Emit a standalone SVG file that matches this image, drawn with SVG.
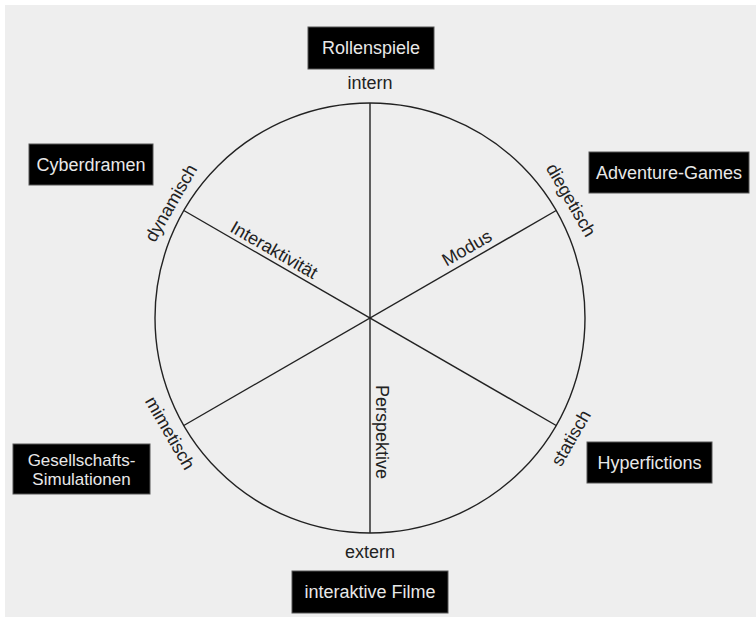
<svg xmlns="http://www.w3.org/2000/svg" width="756" height="617" viewBox="0 0 756 617">
<style>
.lbl{font-family:"Liberation Sans",Arial,sans-serif;font-size:18px;fill:#222;text-anchor:middle}
.box rect{fill:#000;stroke:#555;stroke-width:1}
.box text{font-family:"Liberation Sans",Arial,sans-serif;font-size:18px;fill:#e8e8e8;text-anchor:middle}
.box text.two{font-size:17px}
.ln{stroke:#222;stroke-width:1.4;fill:none}
</style>
<rect x="0" y="0" width="756" height="617" fill="#ffffff"/>
<rect x="5" y="5" width="751" height="612" fill="#eeeeee"/>
<g id="connectors">
<circle class="ln" cx="370" cy="318" r="215"/>
<line class="ln" x1="370" y1="103" x2="370" y2="533"/>
<line class="ln" x1="183.8" y1="210.5" x2="556.2" y2="425.5"/>
<line class="ln" x1="556.2" y1="210.5" x2="183.8" y2="425.5"/>
</g>
<g id="axis-labels">
<text class="lbl" transform="translate(274,250) rotate(30)" y="6">Interaktivität</text>
<text class="lbl" transform="translate(467,248) rotate(-30)" y="6">Modus</text>
<text class="lbl" transform="translate(382,432) rotate(90)" y="6">Perspektive</text>
<text class="lbl" x="370" y="89">intern</text>
<text class="lbl" x="370" y="558">extern</text>
<text class="lbl" transform="translate(171,203) rotate(-60)" y="6">dynamisch</text>
<text class="lbl" transform="translate(571,200) rotate(60)" y="6">diegetisch</text>
<text class="lbl" transform="translate(170,433) rotate(60)" y="6">mimetisch</text>
<text class="lbl" transform="translate(571,438) rotate(-60)" y="6">statisch</text>
</g>
<g id="rollenspiele" class="box"><rect x="308" y="27" width="126" height="42"/><text x="371" y="54">Rollenspiele</text></g>
<g id="adventure-games" class="box"><rect x="589" y="152" width="160" height="41"/><text x="669" y="179">Adventure-Games</text></g>
<g id="cyberdramen" class="box"><rect x="29" y="144" width="124" height="41"/><text x="91" y="171">Cyberdramen</text></g>
<g id="gesellschafts-simulationen" class="box"><rect x="13" y="444" width="137" height="50"/><text class="two" x="81.5" y="466">Gesellschafts-</text><text class="two" x="81.5" y="485">Simulationen</text></g>
<g id="hyperfictions" class="box"><rect x="587" y="442" width="125" height="41"/><text x="649.5" y="469">Hyperfictions</text></g>
<g id="interaktive-filme" class="box"><rect x="292" y="571" width="156" height="42"/><text x="370" y="598">interaktive Filme</text></g>
</svg>
